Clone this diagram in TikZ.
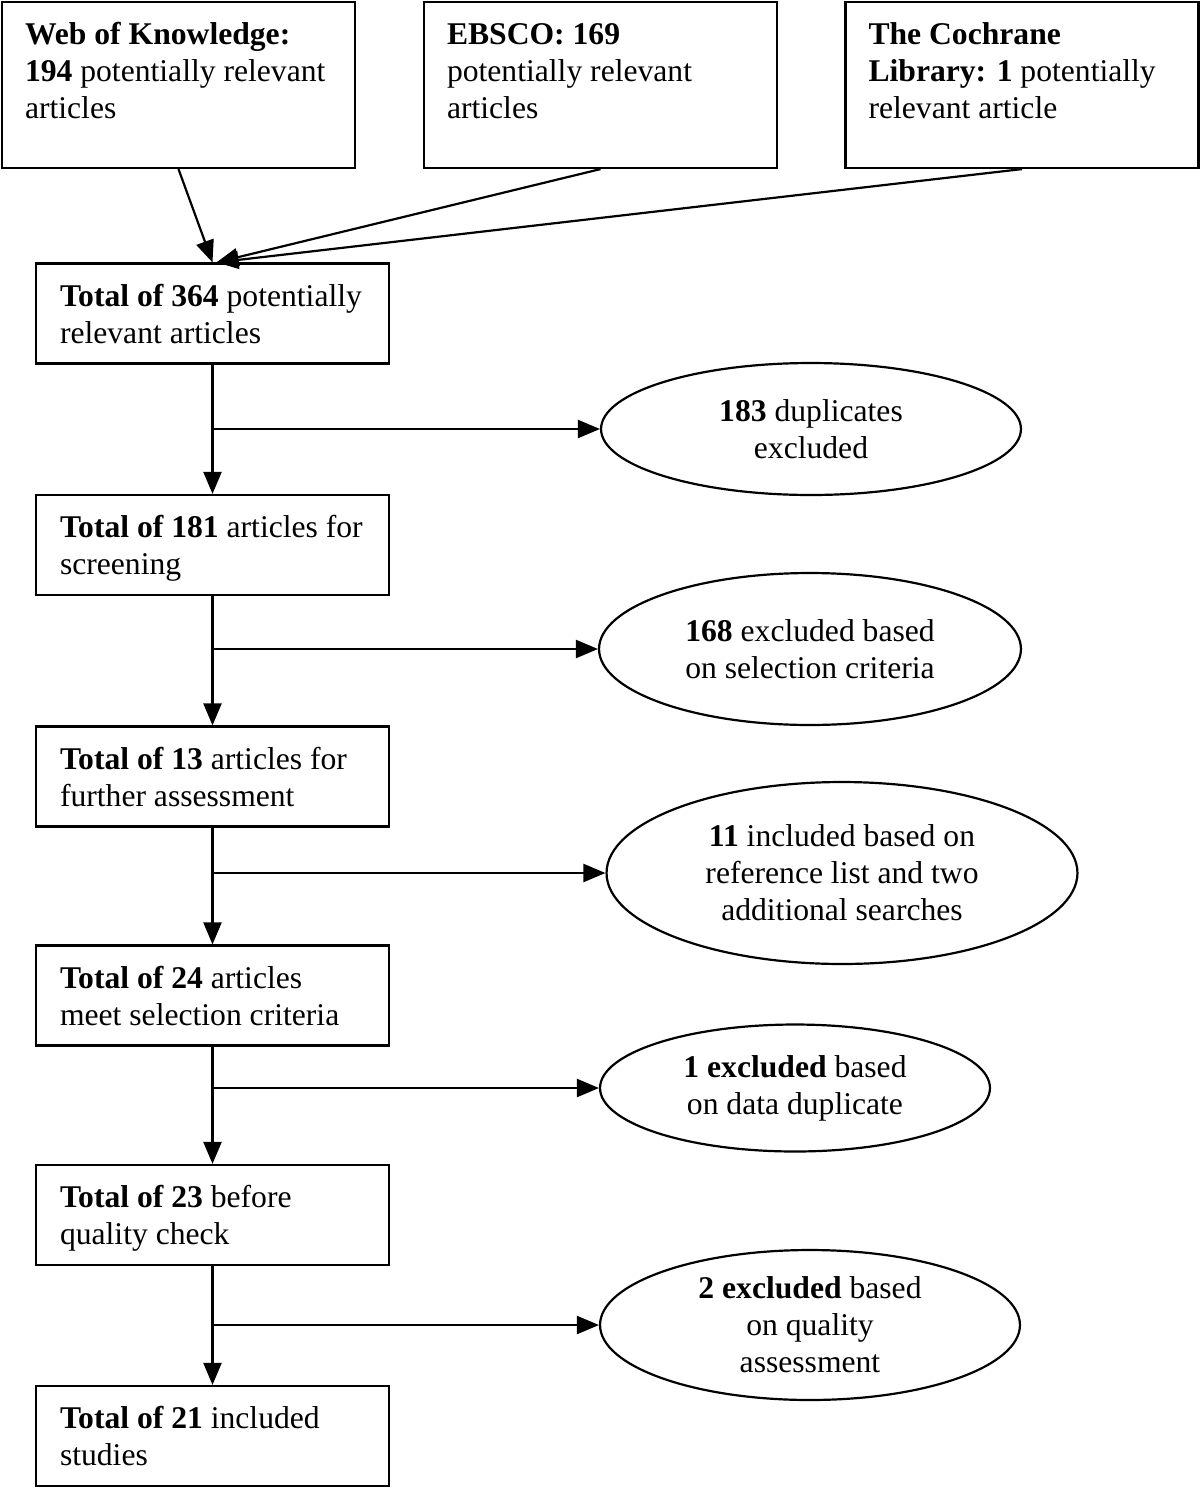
\documentclass[tikz,border=0pt]{standalone}
\usepackage{fontspec}
\setmainfont{Liberation Serif}
\usetikzlibrary{shapes.geometric,arrows.meta}

\newcommand{\boxlines}[1]{\makebox[6.1cm][l]{\raisebox{0pt}[\dimexpr\height+0.16cm\relax][\depth]{\begin{tabular}{@{}l@{}}#1\end{tabular}}}}
\newcommand{\toplines}[1]{\parbox[c][2.64cm][t]{6.14cm}{\begin{tabular}{@{}l@{}}#1\end{tabular}}}

\begin{document}
\begin{tikzpicture}[x=0.02cm,y=-0.02cm,line width=1.25pt,>={Triangle[length=0.44cm,width=0.36cm]},
        every node/.style={font=\fontsize{18}{21}\selectfont},
        box/.style={draw,inner sep=0pt,minimum width=7.06cm,minimum height=2cm},
        topbox/.style={draw,inner sep=0pt,minimum width=7.06cm,minimum height=3.32cm},
        excl/.style={draw,ellipse,inner sep=0pt,align=center}]
        \useasboundingbox (0,0) rectangle (1200,1488);

        % the three databases
        \node[topbox] (wok) at (178.5,85) {\toplines{\textbf{Web of Knowledge:}\\ \textbf{194} potentially relevant\\ articles}};
        \node[topbox] (ebsco) at (600.5,85) {\toplines{\textbf{EBSCO: 169}\\ potentially relevant\\ articles}};
        \node[topbox] (coch) at (1022,85) {\toplines{\textbf{The Cochrane}\\ \textbf{Library: 1} potentially\\ relevant article}};

        % the main column
        \node[box] (t364) at (212.5,313.5) {\boxlines{\textbf{Total of 364} potentially\\ relevant articles}};
        \node[box] (t181) at (212.5,545) {\boxlines{\textbf{Total of 181} articles for\\ screening}};
        \node[box] (t13) at (212.5,776.5) {\boxlines{\textbf{Total of 13} articles for\\ further assessment}};
        \node[box] (t24) at (212.5,995.5) {\boxlines{\textbf{Total of 24} articles\\ meet selection criteria}};
        \node[box] (t23) at (212.5,1215) {\boxlines{\textbf{Total of 23} before\\ quality check}};
        \node[box] (t21) at (212.5,1436) {\boxlines{\textbf{Total of 21} included\\ studies}};

        % the exclusions
        \node[excl,minimum width=8.4cm,minimum height=2.64cm] (dup) at (811,429) {\textbf{183} duplicates\\ excluded};
        \node[excl,minimum width=8.44cm,minimum height=3.04cm] (sel) at (810,649) {\textbf{168} excluded based\\ on selection criteria};
        \node[excl,minimum width=9.42cm,minimum height=3.64cm] (add) at (842,873) {\textbf{11} included based on\\ reference list and two\\ additional searches};
        \node[excl,minimum width=7.8cm,minimum height=2.54cm] (ddup) at (795,1088) {\textbf{1 excluded} based\\ on data duplicate};
        \node[excl,minimum width=8.4cm,minimum height=3cm] (qual) at (810,1325) {\textbf{2 excluded} based\\ on quality\\ assessment};

        % databases into the total
        \draw[->] (wok.south) -- (t364.north);
        \draw[->] (ebsco.south) -- ([xshift=0.08cm]t364.north);
        \draw[->] (coch.south) -- ([xshift=0.08cm]t364.north);

        % down the column
        \foreach \a/\b in {t364/t181,t181/t13,t13/t24,t24/t23,t23/t21}
                \draw[->] (\a.south) -- (\b.north);

        % out to the side
        \foreach \a/\e in {t364/dup,t181/sel,t13/add,t24/ddup,t23/qual}
                \draw[->] (\a.south |- \e.west) -- (\e.west);
\end{tikzpicture}
\end{document}
